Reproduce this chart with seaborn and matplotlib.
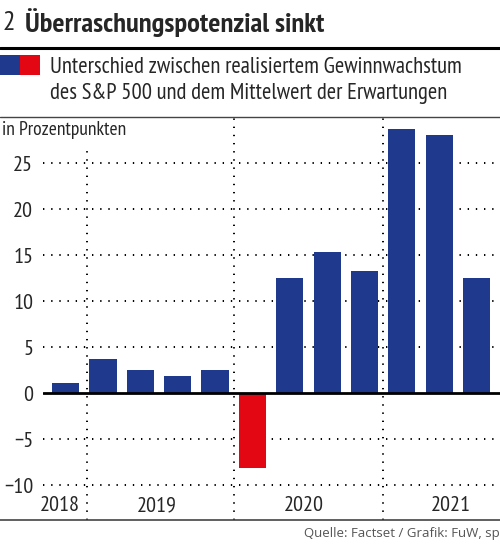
import matplotlib
matplotlib.use("Agg")
import matplotlib.pyplot as plt
import seaborn as sns
import pandas as pd
from matplotlib.lines import Line2D
from matplotlib.patches import Rectangle

# ---- data ----
quarters = ["Q4 18", "Q1 19", "Q2 19", "Q3 19", "Q4 19", "Q1 20", "Q2 20",
            "Q3 20", "Q4 20", "Q1 21", "Q2 21", "Q3 21"]
values = [1.1, 3.7, 2.5, 1.9, 2.5, -8.1, 12.5, 15.4, 13.3, 28.7, 28.1, 12.5]
year_labels = ["2018", "2019", "2020", "2021"]
y_ticks = [-10, -5, 0, 5, 10, 15, 20, 25]
y_tick_labels = ["\u221210", "\u22125", "0", "5", "10", "15", "20", "25"]

title_num = "2"
title = "Überraschungspotenzial sinkt"
legend_lines = ["Unterschied zwischen realisiertem Gewinnwachstum",
                "des S&P 500 und dem Mittelwert der Erwartungen"]
unit_label = "in Prozentpunkten"
source = "Quelle: Factset / Grafik: FuW, sp"

BLUE = "#1f398c"
RED = "#e30613"

sns.set_theme(style="white")
COND = ["PT Sans Narrow", "Roboto Condensed", "DejaVu Sans"]
plt.rcParams["font.family"] = COND

df = pd.DataFrame({"quarter": quarters, "value": values})
df["sign"] = ["neg" if v < 0 else "pos" for v in values]

fig = plt.figure(figsize=(5.0, 5.45), dpi=100)
W, H = 500, 545
ax = fig.add_axes([43 / W, (H - 520) / H, 1 - 43 / W, (520 - 117) / H])

sns.barplot(data=df, x="quarter", y="value", hue="sign",
            palette={"pos": BLUE, "neg": RED}, dodge=False, legend=False,
            width=0.73, saturation=1, ax=ax, zorder=3,
            edgecolor="none", linewidth=0)

ax.set_xlim(-0.61, 11.63)
ax.set_ylim(-13.75, 30.05)
for s in ax.spines.values():
    s.set_visible(False)
ax.set_xticks([])
ax.set_xlabel("")
ax.set_ylabel("")
ax.set_yticks(y_ticks)
ax.set_yticklabels(y_tick_labels, fontsize=16)
ax.tick_params(axis="y", length=0, pad=7)

dot = dict(color="black", linewidth=1.4, linestyle=(0, (0.7, 3.5)),
           dash_capstyle="butt", zorder=1)
for t in y_ticks:
    if t != 0:
        ax.axhline(t, **dot)
ax.axhline(0, color="black", linewidth=2, zorder=4)

# year separators
ax.axvline(0.57, ymax=0.923, **dot)
ax.axvline(4.5, **dot)
ax.axvline(8.5, **dot)

# year labels
year_x = [-0.16, 2.45, 6.38, 10.32]
for yl, xx in zip(year_labels, year_x):
    ax.text(xx, -12.2, yl, ha="center", va="center", fontsize=16)

# header
fig.text(2 / W, 1 - 23 / H, title_num, fontsize=20, va="center", ha="left")
fig.text(25 / W, 1 - 23 / H, title, fontsize=20.5, fontweight="bold",
         va="center", ha="left")
fig.add_artist(Line2D([0, 1], [1 - 47.5 / H] * 2, color="black", lw=2.2))
fig.add_artist(Rectangle((0, 1 - 75 / H), 20 / W, 20 / H, color=BLUE, lw=0))
fig.add_artist(Rectangle((20 / W, 1 - 75 / H), 20 / W, 20 / H, color=RED, lw=0))
fig.text(50 / W, 1 - 67 / H, legend_lines[0], fontsize=16.3, va="center")
fig.text(50 / W, 1 - 94 / H, legend_lines[1], fontsize=16.3, va="center")
fig.add_artist(Line2D([0, 1], [1 - 117 / H] * 2, color="#444444", lw=1.0))
fig.text(2 / W, 1 - 130 / H, unit_label, fontsize=14, va="center")
fig.add_artist(Line2D([0, 1], [1 - 520 / H] * 2, color="#444444", lw=1.2))
fig.text(1.0, 1 - 533 / H, source, fontsize=9.5, color="#555555",
         ha="right", va="center", family=["Open Sans", "DejaVu Sans"])

fig.savefig("out.png", dpi=100)
